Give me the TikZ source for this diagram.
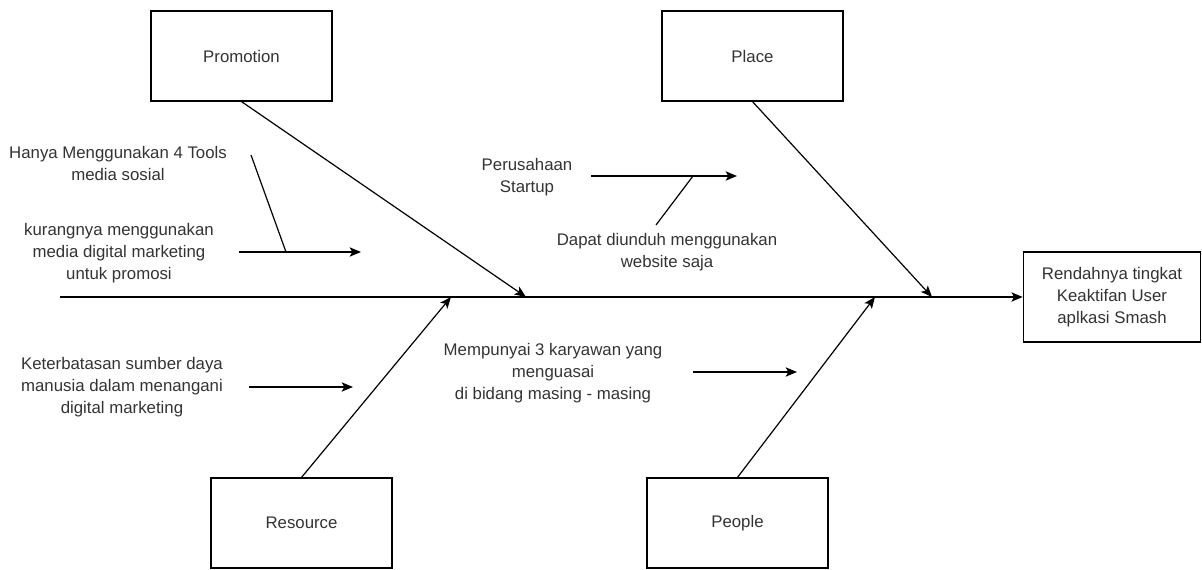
\documentclass[tikz,border=0pt]{standalone}
\usepackage{fontspec}
\setmainfont{Liberation Sans}
\usetikzlibrary{arrows.meta}
\tikzset{
  >={Stealth[length=8.5pt,width=7pt,inset=2pt]},
  causebox/.style={draw, line width=0.9pt, minimum width=135.75pt, minimum height=67.5pt, inner sep=0pt, align=center},
  causetext/.style={align=center, inner sep=0pt},
  bone/.style={line width=0.9pt}
}
\begin{document}
\begin{tikzpicture}[x=0.75pt, y=-0.75pt, font=\fontsize{12.6}{16.5}\selectfont, text=black!80]
            \useasboundingbox (0,0) rectangle (1202,570);

            \node[causebox, minimum width=133pt] (effect) at (1112,297) {Rendahnya tingkat\\Keaktifan User\\aplkasi Smash};
            \coordinate (tail) at (60,297);
            \draw[->, bone] (tail) -- (effect);

            \node[causebox] (promotion) at (241.5,56) {Promotion};
            \node[causebox] (place) at (752.5,56) {Place};
            \node[causebox] (resource) at (301.5,523) {Resource};
            \node[causebox] (people) at (737.5,523) {People};

            \coordinate (promohead) at (526,297);
            \coordinate (placehead) at (932,297);
            \coordinate (resourcehead) at (451,297);
            \coordinate (peoplehead) at (875,297);
            \draw[->, bone] (promotion.south) -- (promohead);
            \draw[->, bone] (place.south) -- (placehead);
            \draw[->, bone] (resource.north) -- (resourcehead);
            \draw[->, bone] (people.north) -- (peoplehead);

            % promotion
            \node[causetext] (tools) at (118,163) {Hanya Menggunakan 4 Tools\\media sosial};
            \node[causetext] (kurang) at (119,253) {kurangnya menggunakan\\media digital marketing\\untuk promosi};
            \coordinate (kurangtail) at (239,252);
            \coordinate (kurangtip) at (361,252);
            \coordinate (toolstop) at (251,155);
            \coordinate (toolsfoot) at (286,252);
            \draw[->, bone] (kurangtail) -- (kurangtip);
            \draw[bone] (toolstop) -- (toolsfoot);

            % place
            \node[causetext] (startup) at (527,177) {Perusahaan\\Startup};
            \node[causetext] (unduh) at (667,252) {Dapat diunduh menggunakan\\website saja};
            \coordinate (startuptail) at (591,176);
            \coordinate (startuptip) at (737,176);
            \coordinate (unduhtop) at (656,225);
            \coordinate (unduhfoot) at (693,176);
            \draw[->, bone] (startuptail) -- (startuptip);
            \draw[bone] (unduhtop) -- (unduhfoot);

            % resource
            \node[causetext] (sdm) at (122,387) {Keterbatasan sumber daya\\manusia dalam menangani\\digital marketing};
            \coordinate (sdmtail) at (249,387);
            \coordinate (sdmtip) at (353,387);
            \draw[->, bone] (sdmtail) -- (sdmtip);

            % people
            \node[causetext] (karyawan) at (553,373) {Mempunyai 3 karyawan yang\\menguasai\\di bidang masing - masing};
            \coordinate (karyawantail) at (693,372);
            \coordinate (karyawantip) at (797,372);
            \draw[->, bone] (karyawantail) -- (karyawantip);
        \end{tikzpicture}
\end{document}
